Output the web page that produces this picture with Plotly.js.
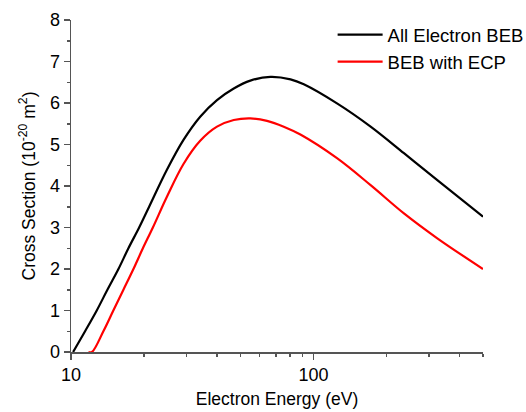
<!DOCTYPE html>
<html>
<head>
<meta charset="utf-8">
<script src="https://cdn.plot.ly/plotly-3.0.1.min.js"></script>
<style>html,body{margin:0;padding:0;background:#fff;}#chart{width:526px;height:412px;}</style>
</head>
<body>
<div id="chart"></div>
<script>
// Series names
const seriesNames = ["All Electron BEB", "BEB with ECP"];

// All Electron BEB (energy in eV, cross section in 1e-20 m^2)
const energyAll = [10.2, 11.43, 12.77, 14.13, 15.69, 17.25, 19.1, 21.0, 24.86, 29.1, 34.1, 40.0, 46.9, 54.9, 66.4, 80.4, 91.2, 125, 172, 236, 324, 500];
const sigmaAll  = [0, 0.5, 1.0, 1.5, 2.0, 2.5, 3.0, 3.5, 4.39, 5.11, 5.67, 6.07, 6.35, 6.54, 6.63, 6.57, 6.45, 5.99, 5.43, 4.79, 4.14, 3.26];

// BEB with ECP
const energyECP = [11.8, 12.2, 13.6, 14.95, 16.45, 18.09, 19.79, 21.76, 24.86, 29.1, 34.1, 40.0, 46.9, 54.9, 64.3, 75.4, 88.3, 125, 172, 236, 324, 500];
const sigmaECP  = [0, 0, 0.5, 1.0, 1.5, 2.0, 2.5, 3.0, 3.74, 4.53, 5.09, 5.43, 5.59, 5.63, 5.57, 5.43, 5.24, 4.67, 4.02, 3.34, 2.74, 2.0];

// Axis ticks
const xMajorTicks = [10, 100];
const xMajorText = ["10", "100"];
const xMinorTicks = [20, 30, 40, 50, 60, 70, 80, 90, 200, 300, 400, 500];

const font = "Liberation Sans, Arial, sans-serif";

const traces = [
  {x: energyAll, y: sigmaAll, name: seriesNames[0], mode: "lines",
   line: {color: "#000000", width: 2.2, shape: "spline", smoothing: 1}},
  {x: energyECP, y: sigmaECP, name: seriesNames[1], mode: "lines",
   line: {color: "#ff0000", width: 2.2, shape: "spline", smoothing: 1}}
];

const axisCommon = {
  showgrid: false, zeroline: false, showline: true, linecolor: "#555", linewidth: 1.5,
  ticks: "outside", ticklen: 6, tickwidth: 1.5, tickcolor: "#555",
  tickfont: {family: font, size: 18, color: "#000"}
};

const layout = {
  width: 526, height: 412,
  margin: {l: 71, r: 43, t: 20, b: 60, autoexpand: false},
  paper_bgcolor: "#fff", plot_bgcolor: "#fff",
  font: {family: font, color: "#000"},
  showlegend: true,
  legend: {x: 0.635, y: 1.012, xanchor: "left", yanchor: "top", bgcolor: "rgba(0,0,0,0)",
           font: {family: font, size: 18.5, color: "#000"}, itemwidth: 45},
  xaxis: Object.assign({}, axisCommon, {
    type: "log", range: [1, Math.log10(500)],
    tickmode: "array", tickvals: xMajorTicks, ticktext: xMajorText,
    minor: {tickmode: "array", tickvals: xMinorTicks, ticks: "outside", ticklen: 3, tickwidth: 1.5, tickcolor: "#555"},
    title: {text: "Electron Energy (eV)", font: {family: font, size: 17.5, color: "#000"}, standoff: 8}
  }),
  yaxis: Object.assign({}, axisCommon, {
    range: [0, 8], dtick: 1, tick0: 0,
    minor: {dtick: 0.5, ticks: "outside", ticklen: 3, tickwidth: 1.5, tickcolor: "#555"},
    title: {text: "Cross Section (10<sup>-20</sup> m<sup>2</sup>)", font: {family: font, size: 17.5, color: "#000"}, standoff: 10}
  })
};

Plotly.newPlot("chart", traces, layout, {displayModeBar: false, staticPlot: true});
</script>
</body>
</html>
